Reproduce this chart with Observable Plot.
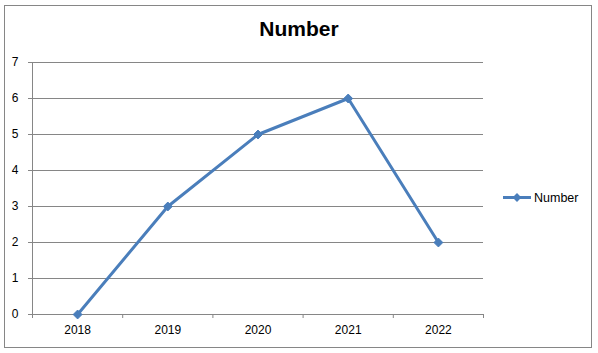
<!DOCTYPE html>
<html>
<head>
<meta charset="utf-8">
<script src="https://cdn.jsdelivr.net/npm/d3@7"></script>
<script src="https://cdn.jsdelivr.net/npm/@observablehq/plot@0.6"></script>
<style>
  html, body { margin: 0; padding: 0; background: #fff; }
  #wrap { position: relative; width: 598px; height: 353px; overflow: hidden; font-family: "Liberation Sans", Arial, sans-serif; }
  #border { position: absolute; left: 4px; top: 5px; width: 588px; height: 343px; border: 1px solid #868686; box-sizing: border-box; pointer-events: none; }
  #title { position: absolute; left: 0; width: 598px; top: 17px; text-align: center; font-weight: bold; font-size: 21px; color: #000; }
  #legend { position: absolute; left: 502px; top: 189px; }
  #chart { position: absolute; left: 0; top: 0; }
</style>
</head>
<body>
<div id="wrap">
  <div id="chart"></div>
  <div id="border"></div>
  <div id="title">Number</div>
  <div id="legend"></div>
</div>
<script>
const seriesName = "Number";
const years = [2018, 2019, 2020, 2021, 2022];
const values = [0, 3, 5, 6, 2];
const yTicks = [0, 1, 2, 3, 4, 5, 6, 7];

const color = "#4a7ebb";
const grid = "#868686";

const data = years.map((y, i) => ({year: y, value: values[i]}));
const xMin = years[0] - 0.5;
const xMax = years[years.length - 1] + 0.5;
const boundaries = years.map(y => y - 0.5).concat([xMax]);

const chart = Plot.plot({
  width: 598,
  height: 353,
  marginLeft: 32,
  marginRight: 115,
  marginTop: 62,
  marginBottom: 39,
  style: {fontFamily: "Liberation Sans, Arial, sans-serif", fontSize: "12px", color: "#000", background: "transparent"},
  x: {type: "linear", domain: [xMin, xMax]},
  y: {domain: [0, 7]},
  marks: [
    Plot.ruleY(yTicks, {x1: xMin, x2: xMax, stroke: grid, strokeWidth: 1, strokeOpacity: 1}),
    Plot.ruleX([xMin], {y1: 0, y2: 7, stroke: grid, strokeWidth: 1, strokeOpacity: 1}),
    Plot.axisY({ticks: yTicks, tickSize: 4, tickPadding: 10, stroke: grid, strokeOpacity: 1, label: null, tickFormat: d => String(d)}),
    Plot.axisX({ticks: boundaries, tickSize: 4, tickFormat: () => "", stroke: grid, strokeOpacity: 1, label: null}),
    Plot.axisX({ticks: years, tickSize: 0, tickPadding: 11, tickFormat: d => String(d), label: null}),
    Plot.line(data, {x: "year", y: "value", stroke: color, strokeWidth: 3}),
    Plot.dot(data, {x: "year", y: "value", symbol: "diamond2", fill: color, stroke: color, strokeWidth: 1, r: 4})
  ]
});
document.getElementById("chart").appendChild(chart);

// Legend
const lg = d3.select("#legend").append("svg").attr("width", 90).attr("height", 18);
lg.append("line").attr("x1", 1).attr("x2", 29).attr("y1", 8.5).attr("y2", 8.5).attr("stroke", color).attr("stroke-width", 3);
lg.append("path").attr("d", d3.symbol(d3.symbolDiamond2, 50)()).attr("transform", "translate(15,8.5)").attr("fill", color);
lg.append("text").attr("x", 32).attr("y", 13).attr("font-size", "12.5px").attr("font-family", "Liberation Sans, Arial, sans-serif").text(seriesName);
</script>
</body>
</html>
